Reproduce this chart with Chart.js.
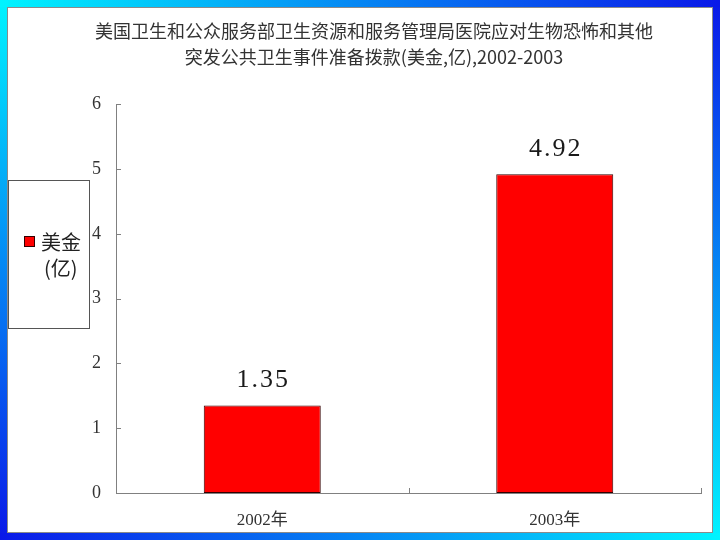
<!DOCTYPE html>
<html>
<head>
<meta charset="utf-8">
<script src="https://cdn.jsdelivr.net/npm/chart.js@4/dist/chart.umd.min.js"></script>
<style>
  html, body { margin: 0; padding: 0; background: #fff; }
  canvas { display: block; }
</style>
</head>
<body>
<canvas id="c" width="720" height="540"></canvas>
<script>
// chart data
const titleLines = ['美国卫生和公众服务部卫生资源和服务管理局医院应对生物恐怖和其他', '突发公共卫生事件准备拨款(美金,亿),2002-2003'];
const years = ['2002年', '2003年'];
const funding = [1.35, 4.92];
const seriesLabel = '美金\n(亿)';
const yTicks = [0, 1, 2, 3, 4, 5, 6];

const SERIF = '"Liberation Serif", "Noto Sans CJK SC", serif';
const CJK = '"Noto Sans CJK SC", sans-serif';

// blue/cyan frame and white panel behind everything
const framePlugin = {
  id: 'frame',
  beforeDraw(chart) {
    const { ctx, width: w, height: h } = chart;
    const t = 7;
    const cyan = '#00f4ff', blue = '#0a18e8';
    ctx.save();
    let g = ctx.createLinearGradient(0, 0, w, 0);
    g.addColorStop(0, cyan); g.addColorStop(1, blue);
    ctx.fillStyle = g; ctx.fillRect(0, 0, w, t);
    g = ctx.createLinearGradient(0, 0, w, 0);
    g.addColorStop(0, blue); g.addColorStop(1, cyan);
    ctx.fillStyle = g; ctx.fillRect(0, h - t, w, t);
    g = ctx.createLinearGradient(0, 0, 0, h);
    g.addColorStop(0, cyan); g.addColorStop(1, blue);
    ctx.fillStyle = g; ctx.fillRect(0, t, t, h - 2 * t);
    g = ctx.createLinearGradient(0, 0, 0, h);
    g.addColorStop(0, blue); g.addColorStop(1, cyan);
    ctx.fillStyle = g; ctx.fillRect(w - t, t, t, h - 2 * t);
    ctx.fillStyle = '#fff';
    ctx.fillRect(t, t, w - 2 * t, h - 2 * t);
    ctx.strokeStyle = '#8a8a8a';
    ctx.lineWidth = 1;
    ctx.strokeRect(t + 0.5, t + 0.5, w - 2 * t - 1, h - 2 * t - 1);
    ctx.restore();
  }
};

// inside tick marks, value labels and the boxed legend
const decoPlugin = {
  id: 'deco',
  afterDraw(chart) {
    const { ctx, chartArea: a, scales: { x, y } } = chart;
    ctx.save();
    ctx.strokeStyle = '#808080';
    ctx.lineWidth = 1;
    ctx.beginPath();
    yTicks.forEach(v => {
      const py = Math.round(y.getPixelForValue(v)) + 0.5;
      ctx.moveTo(a.left, py); ctx.lineTo(a.left + 5, py);
    });
    const step = (a.right - a.left) / years.length;
    for (let i = 0; i <= years.length; i++) {
      const px = Math.round(a.left + i * step) + 0.5;
      ctx.moveTo(px, a.bottom); ctx.lineTo(px, a.bottom - 5);
    }
    ctx.stroke();

    // value labels above bars
    const meta = chart.getDatasetMeta(0);
    ctx.fillStyle = '#1a1a1a';
    ctx.font = '26px ' + SERIF;
    ctx.textAlign = 'center';
    ctx.textBaseline = 'middle';
    ctx.letterSpacing = '2px';
    meta.data.forEach((bar, i) => {
      ctx.fillText(funding[i].toFixed(2), bar.x + 1, bar.y - 25);
    });
    ctx.letterSpacing = '0px';

    // legend
    const ds = chart.data.datasets[0];
    ctx.fillStyle = '#fff';
    ctx.fillRect(8, 180, 81, 148);
    ctx.strokeStyle = '#555';
    ctx.strokeRect(8.5, 180.5, 81, 148);
    ctx.fillStyle = ds.backgroundColor;
    ctx.fillRect(24, 236, 11, 11);
    ctx.strokeStyle = '#300';
    ctx.strokeRect(24.5, 236.5, 10, 10);
    ctx.fillStyle = '#222';
    ctx.font = '20px ' + CJK;
    ctx.textAlign = 'left';
    const lines = ds.label.split('\n');
    ctx.fillText(lines[0], 41, 242);
    ctx.fillText(lines[1], 44, 268);
    ctx.restore();
  }
};

new Chart(document.getElementById('c'), {
  type: 'bar',
  data: {
    labels: years,
    datasets: [{
      label: seriesLabel,
      data: funding,
      backgroundColor: '#ff0000',
      borderColor: '#330000',
      borderWidth: 1,
      borderSkipped: false,
      barPercentage: 0.4,
      categoryPercentage: 1,
    }],
  },
  options: {
    responsive: false,
    animation: false,
    layout: { padding: { left: 47, right: 19, top: 0, bottom: 0 } },
    plugins: {
      legend: { display: false },
      tooltip: { enabled: false },
      title: {
        display: true,
        text: titleLines,
        color: '#333',
        font: { family: CJK, size: 18, weight: 'normal', lineHeight: 1.4 },
        padding: { top: 19, bottom: 35 },
      },
    },
    scales: {
      x: {
        grid: { display: false, drawTicks: false },
        border: { display: true, color: '#808080', width: 1 },
        ticks: { color: '#333', padding: 17, font: { family: SERIF, size: 17 } },
        afterFit: s => { s.height = 47; },
      },
      y: {
        min: 0,
        max: 6,
        afterBuildTicks: s => { s.ticks = yTicks.map(v => ({ value: v })); },
        grid: { display: false, drawTicks: false },
        border: { display: true, color: '#808080', width: 1 },
        ticks: { color: '#333', padding: 15, font: { family: SERIF, size: 18 } },
        afterFit: s => { s.width = 69; },
      },
    },
  },
  plugins: [framePlugin, decoPlugin],
});
</script>
</body>
</html>
